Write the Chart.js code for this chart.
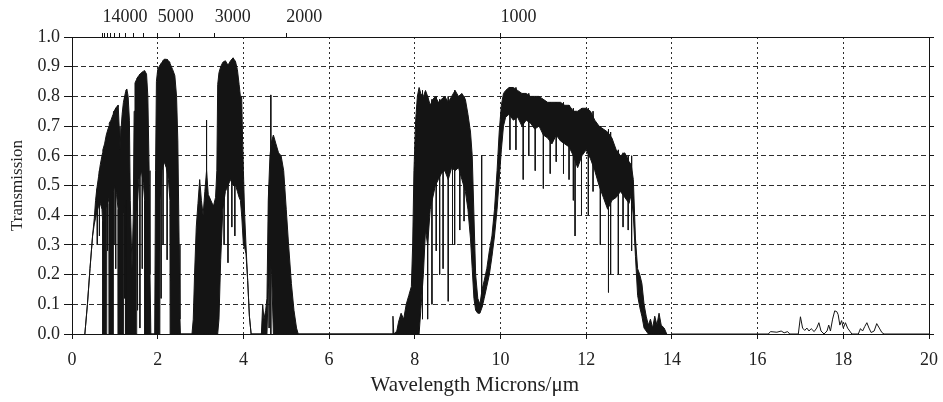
<!DOCTYPE html>
<html><head><meta charset="utf-8">
<script src="https://cdn.jsdelivr.net/npm/chart.js@4.4.1/dist/chart.umd.min.js"></script>
<style>html,body{margin:0;padding:0;background:#fff}#wrap{width:943px;height:402px;position:relative}</style>
</head><body><div id="wrap"><canvas id="c"></canvas></div>
<script>
// ---- data (wavelength in microns, transmission 0..1) ----
// envelope of the dense line spectrum: upper and lower edge of the dark band
const envWl = [
 0.30,0.36,0.42,0.48,0.52,0.55,0.58,0.62,0.66,0.70,0.715,0.72,0.76,0.80,0.81,0.84,0.865,0.87,0.91,0.96,0.965,1.00,1.04,1.075,1.08,1.10,1.12,1.14,1.17,1.20,1.205,1.25,1.255,1.28,1.31,1.34,1.36,1.40,1.43,1.45,1.47,1.50,1.51,1.56,1.62,1.67,1.695,1.70,1.74,1.77,1.80,1.82,1.84,1.93,1.95,1.97,2.00,2.05,2.055,2.10,2.15,2.20,2.25,2.285,2.29,2.35,2.40,2.44,2.47,2.50,2.52,2.53,
 2.80,2.83,2.86,2.90,2.94,2.98,3.02,3.06,3.10,3.14,3.18,3.24,3.30,3.35,3.38,3.40,3.43,3.47,3.52,3.58,3.64,3.70,3.76,3.82,3.86,3.90,3.93,3.96,3.98,4.00,4.03,4.06,4.10,4.14,4.18,
 4.42,4.45,4.48,4.52,4.55,4.58,4.62,4.66,4.70,4.76,4.82,4.88,4.94,5.00,5.05,5.12,5.18,5.24,5.28,
 7.40,7.47,7.49,7.51,7.58,7.62,7.68,7.74,7.80,7.86,7.92,7.95,7.98,8.02,8.06,8.10,8.14,8.20,8.25,8.30,8.36,8.42,8.48,8.55,8.62,8.70,8.78,8.86,8.94,9.02,9.10,9.18,9.24,9.30,9.34,9.38,9.42,9.47,9.52,9.57,9.62,9.68,9.74,9.80,9.86,9.92,9.97,10.02,10.07,
 10.12,10.20,10.30,10.40,10.50,10.60,10.70,10.80,10.90,11.00,11.10,11.20,11.30,11.40,11.50,11.60,11.70,11.80,11.90,12.00,12.10,12.20,12.30,12.40,12.50,12.60,12.70,12.80,12.90,13.00,13.05,13.10,13.15,13.20,13.25,13.30,13.35,13.40,13.45,13.50,13.55,13.60,13.65,13.70,13.75,13.82,13.88
];
const envHi = [
 0,0.10,0.22,0.33,0.39,0.45,0.49,0.53,0.57,0.60,0.61,0.62,0.64,0.67,0.67,0.69,0.70,0.71,0.72,0.74,0.745,0.755,0.765,0.77,0.765,0.70,0.62,0.68,0.74,0.78,0.78,0.815,0.82,0.825,0.80,0.72,0.45,0.22,0.40,0.75,0.845,0.855,0.86,0.87,0.88,0.885,0.887,0.887,0.875,0.80,0.55,0.20,0,0,0.55,0.85,0.89,0.905,0.905,0.915,0.925,0.925,0.92,0.915,0.91,0.89,0.87,0.80,0.65,0.30,0.05,0,
 0,0.05,0.20,0.36,0.44,0.52,0.45,0.40,0.48,0.55,0.47,0.45,0.43,0.46,0.55,0.84,0.88,0.90,0.915,0.92,0.905,0.92,0.93,0.915,0.89,0.84,0.80,0.80,0.66,0.55,0.40,0.30,0.18,0.06,0,
 0,0.10,0.05,0.08,0.12,0.45,0.60,0.65,0.67,0.64,0.61,0.60,0.55,0.42,0.31,0.17,0.08,0.02,0,
 0,0,0.06,0,0.01,0.04,0.07,0.05,0.10,0.13,0.16,0.30,0.55,0.72,0.80,0.83,0.81,0.80,0.82,0.80,0.77,0.79,0.80,0.78,0.79,0.80,0.78,0.80,0.82,0.80,0.81,0.79,0.74,0.68,0.60,0.40,0.20,0.12,0.10,0.15,0.18,0.22,0.28,0.33,0.42,0.55,0.68,0.77,0.81,
 0.82,0.83,0.83,0.82,0.81,0.81,0.80,0.80,0.80,0.79,0.78,0.78,0.78,0.78,0.77,0.77,0.75,0.75,0.76,0.76,0.75,0.72,0.70,0.69,0.68,0.66,0.62,0.60,0.61,0.58,0.57,0.52,0.32,0.22,0.20,0.17,0.10,0.06,0.03,0.05,0.02,0.06,0.03,0.07,0.03,0.02,0
];
const envLo = [
 0,0.10,0.22,0.33,0.37,0.39,0.41,0.43,0.44,0.42,0.38,0,0,0,0.42,0.46,0.44,0,0,0,0.48,0.50,0.47,0.42,0,0,0,0,0,0,0.40,0.45,0,0,0,0,0,0,0,0,0,0,0.40,0.52,0.55,0.50,0.45,0,0,0,0,0,0,0,0,0,0,0,0.45,0.55,0.58,0.56,0.52,0.45,0,0,0,0,0,0,0,0,
 0,0,0,0,0,0,0,0,0,0,0,0,0,0,0,0,0.05,0.25,0.42,0.48,0.50,0.52,0.50,0.50,0.48,0.46,0.45,0.40,0.35,0.30,0.29,0.27,0.18,0.06,0,
 0,0,0,0,0,0.15,0.25,0.20,0,0,0,0,0,0,0,0,0,0,0,
 0,0,0,0,0,0,0,0,0,0,0,0,0,0,0,0,0.08,0.20,0.35,0.30,0.42,0.46,0.50,0.52,0.54,0.55,0.52,0.56,0.55,0.56,0.52,0.48,0.42,0.32,0.22,0.12,0.08,0.07,0.07,0.09,0.12,0.16,0.20,0.26,0.33,0.42,0.52,0.62,0.70,
 0.73,0.74,0.72,0.73,0.70,0.72,0.71,0.69,0.70,0.67,0.66,0.64,0.67,0.65,0.64,0.63,0.60,0.56,0.60,0.62,0.59,0.55,0.50,0.46,0.42,0.45,0.46,0.48,0.46,0.44,0.47,0.40,0.26,0.13,0.09,0.06,0.02,0.01,0,0,0,0,0,0,0,0,0
];

// individual deep absorption lines: wavelength, top and bottom of the line
const lineWl  = [0.59,0.64,0.83,0.98,1.02,1.23,1.53,1.585,1.64,2.08,2.125,2.22, 3.14,3.55,3.64,3.73,3.80, 4.60,4.64, 8.18,8.30,8.40,8.50,8.58,8.66,8.78,8.88,8.93,9.05,9.15,9.56, 10.22,10.36,10.53,10.66,10.81,11.00,11.16,11.30,11.47,11.60,11.70,11.74,11.89,12.05,12.16,12.33,12.52,12.57,12.75,12.86,12.98,13.06];
const lineTop = [0.49,0.55,0.68,0.75,0.76,0.80,0.86,0.875,0.88,0.91,0.92,0.925, 0.72,0.915,0.905,0.92,0.92, 0.50,0.805, 0.82,0.80,0.79,0.80,0.79,0.79,0.80,0.80,0.82,0.80,0.80,0.60, 0.83,0.83,0.81,0.81,0.80,0.79,0.78,0.78,0.78,0.77,0.76,0.75,0.76,0.76,0.75,0.70,0.69,0.68,0.62,0.61,0.60,0.60];
const lineBot = [0.30,0.33,0.28,0.30,0.22,0.12,0.08,0.02,0.22,0.12,0.30,0.25, 0.40,0.30,0.24,0.36,0.33, 0.02,0.0, 0.05,0.05,0.10,0.28,0.20,0.22,0.11,0.30,0.30,0.35,0.38,0.09, 0.62,0.62,0.52,0.60,0.55,0.49,0.54,0.58,0.54,0.52,0.45,0.33,0.40,0.40,0.48,0.30,0.14,0.20,0.20,0.36,0.35,0.28];

// far-infrared tail (16-19 microns)
const tailWl = [14.0,16.25,16.30,16.45,16.55,16.62,16.70,16.75,16.95,17.00,17.05,17.10,17.15,17.20,17.25,17.32,17.38,17.43,17.48,17.55,17.62,17.66,17.70,17.75,17.80,17.85,17.88,17.92,17.96,18.00,18.05,18.10,18.15,18.20,18.35,18.40,18.45,18.50,18.55,18.60,18.65,18.72,18.78,18.84,18.90,18.95,20.0];
const tailT  = [0,0,0.008,0.006,0.010,0.004,0.008,0,0,0.058,0.020,0.012,0.020,0.010,0.018,0.008,0.020,0.038,0.010,0,0.010,0.030,0.010,0.050,0.078,0.075,0.065,0.030,0.045,0.020,0.038,0.020,0.010,0,0,0.018,0.010,0.025,0.038,0.020,0.005,0.010,0.035,0.020,0.005,0,0];

// top axis: wavenumber (cm^-1) ticks, and which of them carry a label
const topWavenumbers = [14000,13000,12000,11000,10000,9000,8000,7000,6000,5000,4000,3000,2000,1000];
const topLabelled = [14000,5000,3000,2000,1000];

const xTitle = 'Wavelength Microns/\u03bcm';
const yTitle = 'Transmission';

// ---- chart ----
const ink = '#141414';
const gridInk = '#2e2e2e';
const serif = "'Liberation Serif','Times New Roman',serif";
Chart.defaults.font.family = serif;
Chart.defaults.color = '#222';

const lineData = [];
lineWl.forEach((w, i) => {
  lineData.push({x: w, y: lineTop[i]}, {x: w, y: lineBot[i]}, {x: w, y: null});
});

const xTitlePlugin = {
  id: 'xTitleText',
  afterDraw(chart) {
    const {ctx, chartArea} = chart;
    ctx.save();
    ctx.font = "21px " + serif;
    ctx.fillStyle = '#222';
    ctx.textAlign = 'center';
    ctx.textBaseline = 'middle';
    ctx.fillText(xTitle, chartArea.left + chartArea.width * 0.47, chartArea.bottom + 51);
    ctx.restore();
  }
};

new Chart(document.getElementById('c'), {
  type: 'line',
  data: {
    datasets: [
      {label: 'lower', data: envWl.map((w, i) => ({x: w, y: envLo[i]})), borderColor: ink, borderWidth: 1, pointRadius: 0, fill: false},
      {label: 'upper', data: envWl.map((w, i) => ({x: w, y: envHi[i]})), borderColor: ink, borderWidth: 1, pointRadius: 0, fill: '-1', backgroundColor: ink},
      {label: 'lines', data: lineData, borderColor: ink, borderWidth: 1, pointRadius: 0, spanGaps: false, fill: false},
      {label: 'tail', data: tailWl.map((w, i) => ({x: w, y: tailT[i]})), borderColor: ink, borderWidth: 1, pointRadius: 0, fill: false}
    ]
  },
  options: {
    responsive: true, maintainAspectRatio: false, animation: false,
    layout: {padding: 0},
    elements: {line: {tension: 0}},
    plugins: {legend: {display: false}, tooltip: {enabled: false}},
    scales: {
      x: {
        type: 'linear', position: 'bottom', min: 0, max: 20,
        ticks: {stepSize: 2, font: {size: 18}, padding: 10, maxRotation: 0, autoSkip: false, color: '#222'},
        grid: {color: gridInk, lineWidth: 1, tickLength: 5, tickColor: ink},
        border: {display: true, color: ink, width: 1, dash: [2, 3]},
        afterFit(s) { s.height = 68; s.paddingLeft = 0; s.paddingRight = 0; }
      },
      xTop: {
        type: 'linear', position: 'top', min: 0, max: 20,
        afterBuildTicks(s) { s.ticks = topWavenumbers.map(n => ({value: 10000 / n})); },
        ticks: {
          autoSkip: false, maxRotation: 0, align: 'start', padding: 5, font: {size: 18}, color: '#222',
          callback(v) { const n = Math.round(10000 / v); return topLabelled.includes(n) ? String(n) : ''; }
        },
        grid: {drawOnChartArea: false, tickLength: 4, tickColor: ink},
        border: {display: true, color: ink, width: 1},
        afterFit(s) { s.height = 37; s.paddingLeft = 0; s.paddingRight = 0; }
      },
      y: {
        min: 0, max: 1, position: 'left',
        ticks: {stepSize: 0.1, callback: v => v.toFixed(1), font: {size: 18}, padding: 4, color: '#222'},
        grid: {color: gridInk, lineWidth: 1, tickLength: 8, tickColor: ink},
        border: {display: true, color: ink, width: 1, dash: [5, 3]},
        title: {display: true, text: yTitle, font: {size: 17}, padding: {top: 7, bottom: 0}, color: '#222'},
        afterFit(s) { s.width = 72; }
      },
      yRight: {
        min: 0, max: 1, position: 'right',
        ticks: {display: false, stepSize: 0.1},
        grid: {drawOnChartArea: false, tickLength: 5, tickColor: ink},
        border: {display: true, color: ink, width: 1},
        afterFit(s) { s.width = 14; }
      }
    }
  },
  plugins: [xTitlePlugin]
});
</script>
</body></html>
